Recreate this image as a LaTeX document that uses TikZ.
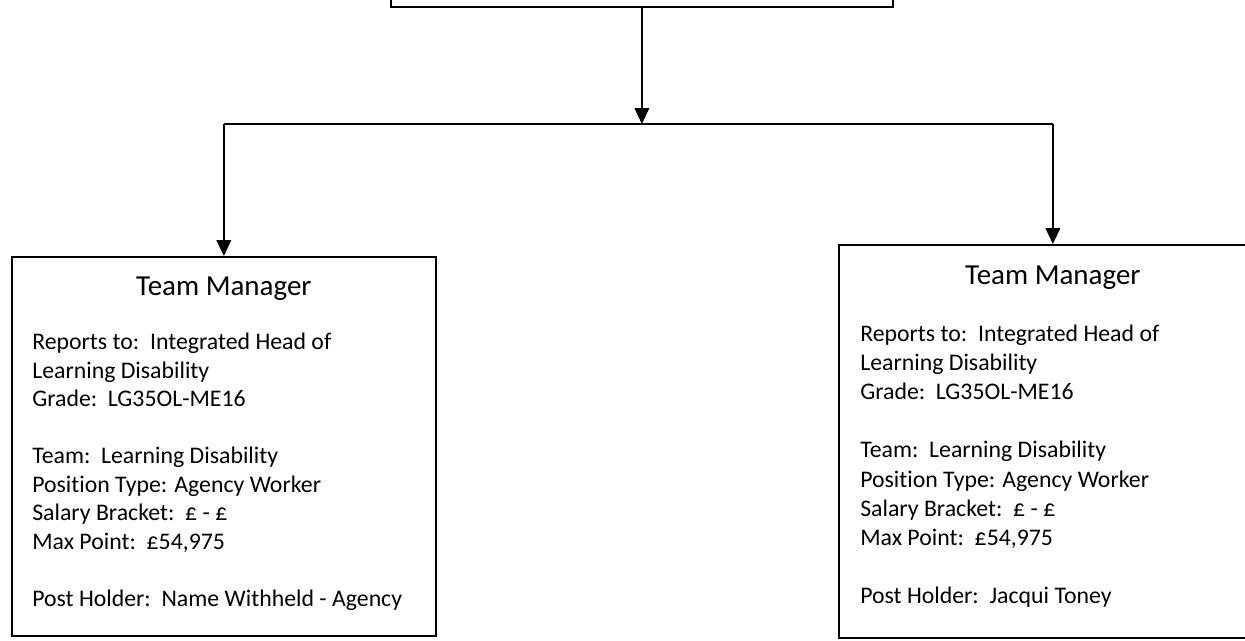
\documentclass[tikz,border=0pt]{standalone}
\usepackage{fontspec}
\setmainfont{Carlito}[Ligatures=NoCommon]
\usetikzlibrary{arrows.meta,positioning}
\begin{document}
\begin{tikzpicture}[x=0.75pt,y=-0.75pt,
    post/.style={draw,line width=1.3pt,anchor=north west,inner sep=0pt},
    head/.style={font=\fontsize{21.75}{26}\selectfont,anchor=base},
    txt/.style={font=\fontsize{17.85}{21.4}\selectfont,anchor=base west,inner sep=0pt},
    link/.style={line width=1.4pt,-{Triangle[width=11pt,length=12pt]}}]
    \useasboundingbox (0,0) rectangle (1245,640);
    \node[post,minimum width=376.5pt,minimum height=64.5pt] (dir) at (390,-80) {};
    \node[post,minimum width=318pt,minimum height=284.25pt] (mgrL) at (11,256) {};
    \node[post,minimum width=321pt,minimum height=294.75pt] (mgrR) at (838,244) {};
    \coordinate (split) at (dir.south |- 0,124);
    \draw[link] (dir.south) -- (split);
    \draw[line width=1.4pt] (mgrL.north |- split) -- (mgrR.north |- split);
    \draw[link] (mgrL.north |- split) -- (mgrL.north);
    \draw[link] (mgrR.north |- split) -- (mgrR.north);
    \node[head] (ttlL) at ([yshift=-29.3pt]mgrL.north) {Team Manager};
    \node[head] (ttlR) at ([yshift=-30.5pt]mgrR.north) {Team Manager};
    \foreach \t [count=\i] in {{Reports to:\ \ Integrated Head of},{Learning
      Disability},{Grade:\ \ LG35OL-ME16},{},{Team:\ \ Learning Disability},
      {Position Type: Agency Worker},{Salary Bracket:\ \ £ - £},{Max
      Point:\ \ £54,975},{},{Post Holder:\ \ Name Withheld - Agency}}{
      \node[txt] (rowL\i) at (32,{349.5+28.5*(\i-1)}) {\t};};
    \foreach \t [count=\i] in {{Reports to:\ \ Integrated Head of},{Learning
      Disability},{Grade:\ \ LG35OL-ME16},{},{Team:\ \ Learning Disability},
      {Position Type: Agency Worker},{Salary Bracket:\ \ £ - £},{Max
      Point:\ \ £54,975},{},{Post Holder:\ \ Jacqui Toney}}{
      \node[txt] (rowR\i) at (860,{341+29.2*(\i-1)}) {\t};};
\end{tikzpicture}
\end{document}
